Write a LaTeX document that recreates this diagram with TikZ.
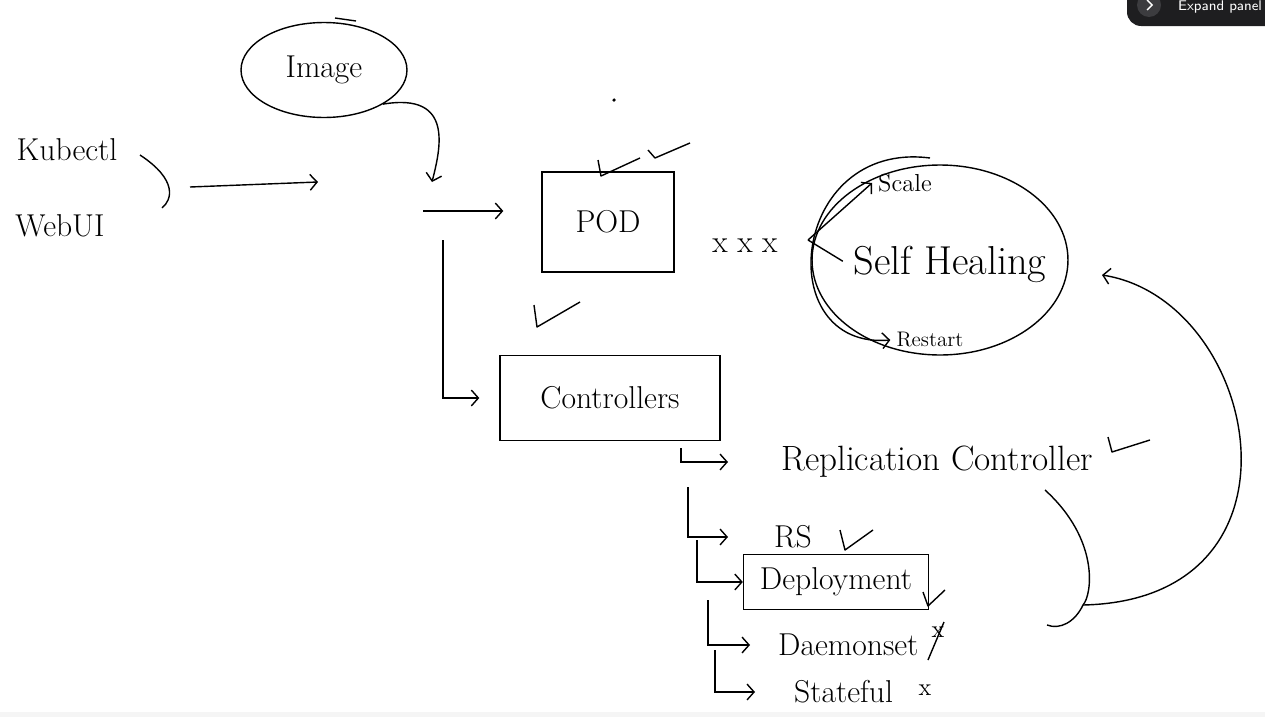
\documentclass[tikz,border=0pt]{standalone}
\usepackage{tikz}
\usetikzlibrary{shapes.geometric, arrows, arrows.meta}
\tikzstyle{bubble} = [ellipse, draw=black, thick, inner sep=0pt]
\tikzstyle{box} = [rectangle, draw=black, thick]
\tikzstyle{word} = [font=\fontsize{18}{21}\selectfont]
\tikzstyle{small} = [font=\fontsize{14}{16}\selectfont]
\tikzstyle{arrow} = [thick,->,>={Straight Barb[length=4pt, width=9pt]}]
\tikzstyle{check} = [thick, line join=round]
\definecolor{panel}{HTML}{1E1E20}
\definecolor{knob}{HTML}{3C3C3F}

\begin{document}
\begin{tikzpicture}[x=0.02cm, y=-0.02cm]
\useasboundingbox (0,0) rectangle (1265,717);
\fill[gray!8] (0,712) rectangle (1265,717);

\node (kub) [word] at (67,150) {Kubectl};

\node (web) [word] at (60,226) {WebUI};

\node (img) [bubble, word, minimum width=3.32cm, minimum height=1.9cm] at (324,70) {Image};

\node (pod) [box, word, minimum width=2.64cm, minimum height=2cm] at (608,222) {POD};

\node (xxx) [word] at (745,246) {x x x};

\node (heal) [bubble, minimum width=5.12cm, minimum height=3.8cm] at (940,260) {};

\node (self) [font=\fontsize{23}{26}\selectfont] at (950,264) {Self Healing};

\node (scale) [small] at (905,183) {Scale};

\node (restart) [font=\fontsize{12}{14}\selectfont] at (930,340) {Restart};

\node (ctrl) [box, word, minimum width=4.4cm, minimum height=1.7cm] at (610,398) {Controllers};

\node (rc) [font=\fontsize{20}{23}\selectfont, anchor=west] at (775,462) {Replication Controller};

\node (rs) [word, anchor=west] at (768,537) {RS};

\node (dep) [box, word, minimum width=3.7cm, minimum height=1.1cm] at (836,582) {Deployment};

\node (ds) [word, anchor=west] at (772,645) {Daemonset};

\node (sf) [word, anchor=west] at (788,692) {Stateful};

\node (dsx) [small] at (938,632) {x};

\node (sfx) [small] at (925,690) {x};

% free ends
\coordinate (in1) at (190,187);
\coordinate (in2) at (318,182);
\coordinate (j1) at (432,182);
\coordinate (j2) at (423,211);
\coordinate (j3) at (443,240);
\coordinate (h0) at (808,240);
\coordinate (h2) at (930,158);
\coordinate (t1) at (681,448);
\coordinate (t2) at (688,487);
\coordinate (t3) at (697,540);
\coordinate (t4) at (708,600);
\coordinate (t5) at (715,650);
\coordinate (g1) at (1045,490);
\coordinate (g2) at (1047,625);
\coordinate (g3) at (1083,605);
\coordinate (k) at (1102,275);

\draw [thick] (140,155) .. controls (178,180) and (172,200) .. (162,208);
\draw [arrow] (in1) -- (in2);
\draw [thick] (335,18) -- (356,21);
\draw [arrow] (img.-30) .. controls (455,92) and (440,150) .. (j1);
\draw [arrow, shorten >=0.76cm] (j2) -- (j2 -| pod.west);
\draw [arrow] (j3) |- ([xshift=-0.4cm]ctrl.west);

\draw [arrow] (h0) -- (scale.west);
\draw [thick, shorten >=3pt] (h0) -- (self.west);
\draw [arrow] (h2) .. controls (790,140) and (770,350) .. (restart.west);

\draw [arrow] (t1) |- ([xshift=-0.94cm]rc.west);
\draw [arrow] (t2) |- ([xshift=-0.8cm]rs.west);
\draw [arrow] (t3) |- (dep.west);
\draw [arrow] (t4) |- ([xshift=-0.44cm]ds.west);
\draw [arrow] (t5) |- ([xshift=-0.66cm]sf.west);

\draw [thick] (g1) .. controls (1100,540) and (1092,595) .. (g3) .. controls (1075,622) and (1060,630) .. (g2);
\draw [arrow] (g3) .. controls (1320,600) and (1260,300) .. (k);

% ticks
\draw [check] (598,160) -- (601,176) -- (640,158);
\draw [check] (648,150) -- (655,158) -- (690,143);
\draw [check] (534,305) -- (537,327) -- (580,302);
\draw [check] (1108,437) -- (1112,452) -- (1150,440);
\draw [check] (840,530) -- (845,550) -- (873,530);
\draw [check] (923,592) -- (928,606) -- (945,590);
\draw [thick] (928,660) -- (944,622);
\fill (614,100) circle [radius=1pt];

% panel
\fill [panel, rounded corners=8] (1127,-15) rectangle (1290,26);
\node (knob) [circle, fill=knob, minimum size=0.48cm, inner sep=0pt] at (1149,5) {};
\draw [white, thick] (1147,0) -- (1152,5) -- (1147,10);
\node (ep) [anchor=west, text=white, inner sep=1pt, font=\sffamily\fontsize{8}{9}\selectfont] at (1176,7) {Expand panel};
\end{tikzpicture}
\end{document}
